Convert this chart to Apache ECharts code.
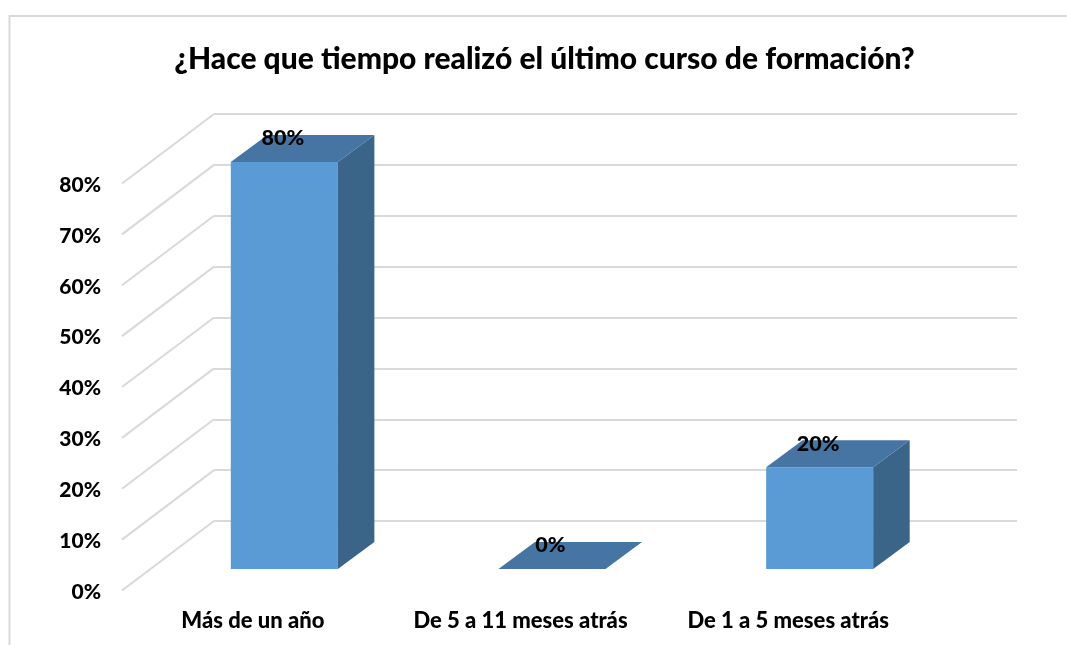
<!DOCTYPE html>
<html>
<head>
<meta charset="utf-8">
<style>
  html, body { margin: 0; padding: 0; background: #fff; }
  #chart { width: 1067px; height: 645px; }
</style>
<script src="https://cdn.jsdelivr.net/npm/echarts@6/dist/echarts.min.js"></script>
</head>
<body>
<div id="chart"></div>
<script>
const categories = ['Más de un año', 'De 5 a 11 meses atrás', 'De 1 a 5 meses atrás'];
const values = [80, 0, 20];
const ticks = [0, 10, 20, 30, 40, 50, 60, 70, 80];
const titleText = '¿Hace que tiempo realizó el último curso de formación?';

const fontFamily = 'Lato, "Open Sans", sans-serif';
const gridColor = '#d9d9d9';

// depth of the 3d box: wall goes back 92/69.5, the bar sits in the middle of it
const wallDx = 92, wallDy = 69.5;
const barDx = 36.5, barDy = 27;
const floorDx = 28.5, floorDy = 21.5;

const chart = echarts.init(document.getElementById('chart'));

chart.setOption({
  animation: false,
  backgroundColor: '#fff',
  title: {
    text: titleText,
    left: 539.5,
    top: 39,
    textAlign: 'center',
    textStyle: { fontFamily, fontSize: 30, fontWeight: 900, color: '#000' }
  },
  // chart frame, only top and left are visible in the crop
  graphic: [
    { type: 'polyline', silent: true, shape: { points: [[9.5, 645], [9.5, 16], [1067, 16]] }, style: { fill: null, stroke: gridColor, lineWidth: 2 } }
  ],
  grid: [
    // back wall
    { left: 214, right: 50, top: 114, bottom: 124 },
    // front edge, carries the labels
    { left: 122, right: 142, top: 183.5, bottom: 54.5 }
  ],
  xAxis: [
    { type: 'category', gridIndex: 0, data: categories, show: false },
    {
      type: 'category',
      gridIndex: 1,
      data: categories,
      axisLine: { show: false },
      axisTick: { show: false },
      axisLabel: { interval: 0, margin: 19, color: '#000', fontFamily, fontSize: 22, fontWeight: 900, padding: [0, 6, 0, 0] }
    }
  ],
  yAxis: [
    {
      type: 'value',
      gridIndex: 0,
      min: 0,
      max: 80,
      interval: 10,
      axisLine: { show: false },
      axisTick: { show: false },
      axisLabel: { show: false },
      splitLine: { show: true, lineStyle: { color: gridColor, width: 2 } }
    },
    {
      type: 'value',
      gridIndex: 1,
      min: 0,
      max: 80,
      interval: 10,
      axisLine: { show: false },
      axisTick: { show: false },
      axisLabel: { margin: 21, color: '#000', fontFamily, fontSize: 21, fontWeight: 900, formatter: '{value}%', verticalAlign: 'top', lineHeight: 3 },
      splitLine: { show: false }
    }
  ],
  series: [
    {
      // side wall lines
      type: 'custom',
      xAxisIndex: 1,
      yAxisIndex: 1,
      silent: true,
      z: 1,
      data: ticks.map(t => [0, t]),
      renderItem: (params, api) => {
        const p = api.coord([0, api.value(1)]);
        const x0 = p[0] - api.size([1, 0])[0] / 2;
        return {
          type: 'line',
          shape: { x1: x0, y1: p[1], x2: x0 + wallDx, y2: p[1] - wallDy },
          style: { stroke: gridColor, lineWidth: 2 }
        };
      }
    },
    {
      type: 'custom',
      xAxisIndex: 1,
      yAxisIndex: 1,
      silent: true,
      z: 3,
      data: values.map((v, i) => [i, v]),
      renderItem: (params, api) => {
        const top = api.coord([api.value(0), api.value(1)]);
        const base = api.coord([api.value(0), 0]);
        const w = api.size([1, 0])[0] * 0.4;
        const xl = top[0] - w / 2 + floorDx;
        const xr = xl + w;
        const yt = top[1] - floorDy;
        const yb = base[1] - floorDy;
        const children = [];
        if (yb - yt > 0) {
          children.push({
            type: 'rect',
            shape: { x: xl, y: yt, width: w, height: yb - yt },
            style: { fill: '#5b9bd5' }
          });
          children.push({
            type: 'polygon',
            shape: { points: [[xr, yt], [xr + barDx, yt - barDy], [xr + barDx, yb - barDy], [xr, yb]] },
            style: { fill: '#3b6489' }
          });
        }
        children.push({
          type: 'polygon',
          shape: { points: [[xl, yt], [xl + barDx, yt - barDy], [xr + barDx, yt - barDy], [xr, yt]] },
          style: { fill: '#4675a3' }
        });
        children.push({
          type: 'text',
          style: {
            text: api.value(1) + '%',
            x: (xl + xr) / 2 - 1.5,
            y: yt - 23.5,
            align: 'center',
            verticalAlign: 'middle',
            fill: '#000',
            font: '900 21.5px ' + fontFamily
          }
        });
        return { type: 'group', children };
      }
    }
  ]
});
</script>
</body>
</html>
